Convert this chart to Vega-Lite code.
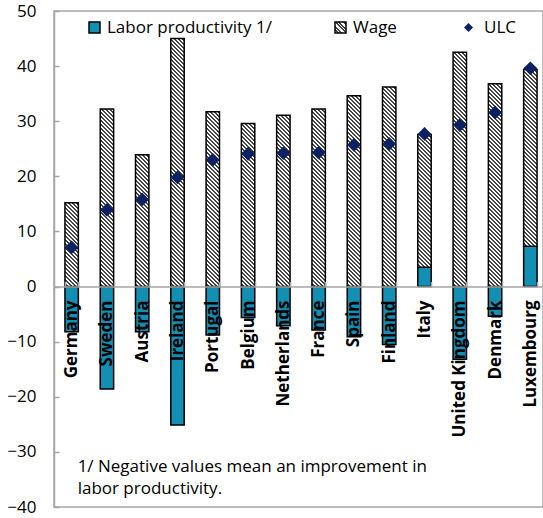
{
"$schema": "https://vega.github.io/schema/vega-lite/v6.json",
"width": 489, "height": 496,
"autosize": {"type": "none"},
"padding": {"left": 54, "top": 11, "right": 0, "bottom": 11},
"background": "white",
"config": {"view": {"stroke": "#a6a6a6", "strokeWidth": 1.5}, "font": "Open Sans"},
"params": [{"name": "hatch", "value": [
{"offset":0,"color":"#fff"},
{"offset":0.0076,"color":"#fff"},{"offset":0.0076,"color":"#444"},
{"offset":0.0152,"color":"#444"},{"offset":0.0152,"color":"#fff"},
{"offset":0.0227,"color":"#fff"},{"offset":0.0227,"color":"#444"},
{"offset":0.0303,"color":"#444"},{"offset":0.0303,"color":"#fff"},
{"offset":0.0379,"color":"#fff"},{"offset":0.0379,"color":"#444"},
{"offset":0.0455,"color":"#444"},{"offset":0.0455,"color":"#fff"},
{"offset":0.0530,"color":"#fff"},{"offset":0.0530,"color":"#444"},
{"offset":0.0606,"color":"#444"},{"offset":0.0606,"color":"#fff"},
{"offset":0.0682,"color":"#fff"},{"offset":0.0682,"color":"#444"},
{"offset":0.0758,"color":"#444"},{"offset":0.0758,"color":"#fff"},
{"offset":0.0833,"color":"#fff"},{"offset":0.0833,"color":"#444"},
{"offset":0.0909,"color":"#444"},{"offset":0.0909,"color":"#fff"},
{"offset":0.0985,"color":"#fff"},{"offset":0.0985,"color":"#444"},
{"offset":0.1061,"color":"#444"},{"offset":0.1061,"color":"#fff"},
{"offset":0.1136,"color":"#fff"},{"offset":0.1136,"color":"#444"},
{"offset":0.1212,"color":"#444"},{"offset":0.1212,"color":"#fff"},
{"offset":0.1288,"color":"#fff"},{"offset":0.1288,"color":"#444"},
{"offset":0.1364,"color":"#444"},{"offset":0.1364,"color":"#fff"},
{"offset":0.1439,"color":"#fff"},{"offset":0.1439,"color":"#444"},
{"offset":0.1515,"color":"#444"},{"offset":0.1515,"color":"#fff"},
{"offset":0.1591,"color":"#fff"},{"offset":0.1591,"color":"#444"},
{"offset":0.1667,"color":"#444"},{"offset":0.1667,"color":"#fff"},
{"offset":0.1742,"color":"#fff"},{"offset":0.1742,"color":"#444"},
{"offset":0.1818,"color":"#444"},{"offset":0.1818,"color":"#fff"},
{"offset":0.1894,"color":"#fff"},{"offset":0.1894,"color":"#444"},
{"offset":0.1970,"color":"#444"},{"offset":0.1970,"color":"#fff"},
{"offset":0.2045,"color":"#fff"},{"offset":0.2045,"color":"#444"},
{"offset":0.2121,"color":"#444"},{"offset":0.2121,"color":"#fff"},
{"offset":0.2197,"color":"#fff"},{"offset":0.2197,"color":"#444"},
{"offset":0.2273,"color":"#444"},{"offset":0.2273,"color":"#fff"},
{"offset":0.2348,"color":"#fff"},{"offset":0.2348,"color":"#444"},
{"offset":0.2424,"color":"#444"},{"offset":0.2424,"color":"#fff"},
{"offset":0.2500,"color":"#fff"},{"offset":0.2500,"color":"#444"},
{"offset":0.2576,"color":"#444"},{"offset":0.2576,"color":"#fff"},
{"offset":0.2652,"color":"#fff"},{"offset":0.2652,"color":"#444"},
{"offset":0.2727,"color":"#444"},{"offset":0.2727,"color":"#fff"},
{"offset":0.2803,"color":"#fff"},{"offset":0.2803,"color":"#444"},
{"offset":0.2879,"color":"#444"},{"offset":0.2879,"color":"#fff"},
{"offset":0.2955,"color":"#fff"},{"offset":0.2955,"color":"#444"},
{"offset":0.3030,"color":"#444"},{"offset":0.3030,"color":"#fff"},
{"offset":0.3106,"color":"#fff"},{"offset":0.3106,"color":"#444"},
{"offset":0.3182,"color":"#444"},{"offset":0.3182,"color":"#fff"},
{"offset":0.3258,"color":"#fff"},{"offset":0.3258,"color":"#444"},
{"offset":0.3333,"color":"#444"},{"offset":0.3333,"color":"#fff"},
{"offset":0.3409,"color":"#fff"},{"offset":0.3409,"color":"#444"},
{"offset":0.3485,"color":"#444"},{"offset":0.3485,"color":"#fff"},
{"offset":0.3561,"color":"#fff"},{"offset":0.3561,"color":"#444"},
{"offset":0.3636,"color":"#444"},{"offset":0.3636,"color":"#fff"},
{"offset":0.3712,"color":"#fff"},{"offset":0.3712,"color":"#444"},
{"offset":0.3788,"color":"#444"},{"offset":0.3788,"color":"#fff"},
{"offset":0.3864,"color":"#fff"},{"offset":0.3864,"color":"#444"},
{"offset":0.3939,"color":"#444"},{"offset":0.3939,"color":"#fff"},
{"offset":0.4015,"color":"#fff"},{"offset":0.4015,"color":"#444"},
{"offset":0.4091,"color":"#444"},{"offset":0.4091,"color":"#fff"},
{"offset":0.4167,"color":"#fff"},{"offset":0.4167,"color":"#444"},
{"offset":0.4242,"color":"#444"},{"offset":0.4242,"color":"#fff"},
{"offset":0.4318,"color":"#fff"},{"offset":0.4318,"color":"#444"},
{"offset":0.4394,"color":"#444"},{"offset":0.4394,"color":"#fff"},
{"offset":0.4470,"color":"#fff"},{"offset":0.4470,"color":"#444"},
{"offset":0.4545,"color":"#444"},{"offset":0.4545,"color":"#fff"},
{"offset":0.4621,"color":"#fff"},{"offset":0.4621,"color":"#444"},
{"offset":0.4697,"color":"#444"},{"offset":0.4697,"color":"#fff"},
{"offset":0.4773,"color":"#fff"},{"offset":0.4773,"color":"#444"},
{"offset":0.4848,"color":"#444"},{"offset":0.4848,"color":"#fff"},
{"offset":0.4924,"color":"#fff"},{"offset":0.4924,"color":"#444"},
{"offset":0.5000,"color":"#444"},{"offset":0.5000,"color":"#fff"},
{"offset":0.5076,"color":"#fff"},{"offset":0.5076,"color":"#444"},
{"offset":0.5152,"color":"#444"},{"offset":0.5152,"color":"#fff"},
{"offset":0.5227,"color":"#fff"},{"offset":0.5227,"color":"#444"},
{"offset":0.5303,"color":"#444"},{"offset":0.5303,"color":"#fff"},
{"offset":0.5379,"color":"#fff"},{"offset":0.5379,"color":"#444"},
{"offset":0.5455,"color":"#444"},{"offset":0.5455,"color":"#fff"},
{"offset":0.5530,"color":"#fff"},{"offset":0.5530,"color":"#444"},
{"offset":0.5606,"color":"#444"},{"offset":0.5606,"color":"#fff"},
{"offset":0.5682,"color":"#fff"},{"offset":0.5682,"color":"#444"},
{"offset":0.5758,"color":"#444"},{"offset":0.5758,"color":"#fff"},
{"offset":0.5833,"color":"#fff"},{"offset":0.5833,"color":"#444"},
{"offset":0.5909,"color":"#444"},{"offset":0.5909,"color":"#fff"},
{"offset":0.5985,"color":"#fff"},{"offset":0.5985,"color":"#444"},
{"offset":0.6061,"color":"#444"},{"offset":0.6061,"color":"#fff"},
{"offset":0.6136,"color":"#fff"},{"offset":0.6136,"color":"#444"},
{"offset":0.6212,"color":"#444"},{"offset":0.6212,"color":"#fff"},
{"offset":0.6288,"color":"#fff"},{"offset":0.6288,"color":"#444"},
{"offset":0.6364,"color":"#444"},{"offset":0.6364,"color":"#fff"},
{"offset":0.6439,"color":"#fff"},{"offset":0.6439,"color":"#444"},
{"offset":0.6515,"color":"#444"},{"offset":0.6515,"color":"#fff"},
{"offset":0.6591,"color":"#fff"},{"offset":0.6591,"color":"#444"},
{"offset":0.6667,"color":"#444"},{"offset":0.6667,"color":"#fff"},
{"offset":0.6742,"color":"#fff"},{"offset":0.6742,"color":"#444"},
{"offset":0.6818,"color":"#444"},{"offset":0.6818,"color":"#fff"},
{"offset":0.6894,"color":"#fff"},{"offset":0.6894,"color":"#444"},
{"offset":0.6970,"color":"#444"},{"offset":0.6970,"color":"#fff"},
{"offset":0.7045,"color":"#fff"},{"offset":0.7045,"color":"#444"},
{"offset":0.7121,"color":"#444"},{"offset":0.7121,"color":"#fff"},
{"offset":0.7197,"color":"#fff"},{"offset":0.7197,"color":"#444"},
{"offset":0.7273,"color":"#444"},{"offset":0.7273,"color":"#fff"},
{"offset":0.7348,"color":"#fff"},{"offset":0.7348,"color":"#444"},
{"offset":0.7424,"color":"#444"},{"offset":0.7424,"color":"#fff"},
{"offset":0.7500,"color":"#fff"},{"offset":0.7500,"color":"#444"},
{"offset":0.7576,"color":"#444"},{"offset":0.7576,"color":"#fff"},
{"offset":0.7652,"color":"#fff"},{"offset":0.7652,"color":"#444"},
{"offset":0.7727,"color":"#444"},{"offset":0.7727,"color":"#fff"},
{"offset":0.7803,"color":"#fff"},{"offset":0.7803,"color":"#444"},
{"offset":0.7879,"color":"#444"},{"offset":0.7879,"color":"#fff"},
{"offset":0.7955,"color":"#fff"},{"offset":0.7955,"color":"#444"},
{"offset":0.8030,"color":"#444"},{"offset":0.8030,"color":"#fff"},
{"offset":0.8106,"color":"#fff"},{"offset":0.8106,"color":"#444"},
{"offset":0.8182,"color":"#444"},{"offset":0.8182,"color":"#fff"},
{"offset":0.8258,"color":"#fff"},{"offset":0.8258,"color":"#444"},
{"offset":0.8333,"color":"#444"},{"offset":0.8333,"color":"#fff"},
{"offset":0.8409,"color":"#fff"},{"offset":0.8409,"color":"#444"},
{"offset":0.8485,"color":"#444"},{"offset":0.8485,"color":"#fff"},
{"offset":0.8561,"color":"#fff"},{"offset":0.8561,"color":"#444"},
{"offset":0.8636,"color":"#444"},{"offset":0.8636,"color":"#fff"},
{"offset":0.8712,"color":"#fff"},{"offset":0.8712,"color":"#444"},
{"offset":0.8788,"color":"#444"},{"offset":0.8788,"color":"#fff"},
{"offset":0.8864,"color":"#fff"},{"offset":0.8864,"color":"#444"},
{"offset":0.8939,"color":"#444"},{"offset":0.8939,"color":"#fff"},
{"offset":0.9015,"color":"#fff"},{"offset":0.9015,"color":"#444"},
{"offset":0.9091,"color":"#444"},{"offset":0.9091,"color":"#fff"},
{"offset":0.9167,"color":"#fff"},{"offset":0.9167,"color":"#444"},
{"offset":0.9242,"color":"#444"},{"offset":0.9242,"color":"#fff"},
{"offset":0.9318,"color":"#fff"},{"offset":0.9318,"color":"#444"},
{"offset":0.9394,"color":"#444"},{"offset":0.9394,"color":"#fff"},
{"offset":0.9470,"color":"#fff"},{"offset":0.9470,"color":"#444"},
{"offset":0.9545,"color":"#444"},{"offset":0.9545,"color":"#fff"},
{"offset":0.9621,"color":"#fff"},{"offset":0.9621,"color":"#444"},
{"offset":0.9697,"color":"#444"},{"offset":0.9697,"color":"#fff"},
{"offset":0.9773,"color":"#fff"},{"offset":0.9773,"color":"#444"},
{"offset":0.9848,"color":"#444"},{"offset":0.9848,"color":"#fff"},
{"offset":0.9924,"color":"#fff"},{"offset":0.9924,"color":"#444"},
{"offset":1,"color":"#444"}
]}],
"datasets": {
"bars": [
{"country":"Germany","series":"Labor productivity 1/","value":-8.2},{"country":"Germany","series":"Wage","value":15.2},
{"country":"Sweden","series":"Labor productivity 1/","value":-18.6},{"country":"Sweden","series":"Wage","value":32.2},
{"country":"Austria","series":"Labor productivity 1/","value":-8.2},{"country":"Austria","series":"Wage","value":23.9},
{"country":"Ireland","series":"Labor productivity 1/","value":-25.1},{"country":"Ireland","series":"Wage","value":45.0},
{"country":"Portugal","series":"Labor productivity 1/","value":-8.8},{"country":"Portugal","series":"Wage","value":31.7},
{"country":"Belgium","series":"Labor productivity 1/","value":-5.6},{"country":"Belgium","series":"Wage","value":29.6},
{"country":"Netherlands","series":"Labor productivity 1/","value":-7.1},{"country":"Netherlands","series":"Wage","value":31.1},
{"country":"France","series":"Labor productivity 1/","value":-7.9},{"country":"France","series":"Wage","value":32.2},
{"country":"Spain","series":"Labor productivity 1/","value":-9.1},{"country":"Spain","series":"Wage","value":34.6},
{"country":"Finland","series":"Labor productivity 1/","value":-10.5},{"country":"Finland","series":"Wage","value":36.2},
{"country":"Italy","series":"Labor productivity 1/","value":3.5},{"country":"Italy","series":"Wage","value":24.1},
{"country":"United Kingdom","series":"Labor productivity 1/","value":-13.2},{"country":"United Kingdom","series":"Wage","value":42.5},
{"country":"Denmark","series":"Labor productivity 1/","value":-5.4},{"country":"Denmark","series":"Wage","value":36.8},
{"country":"Luxembourg","series":"Labor productivity 1/","value":7.3},{"country":"Luxembourg","series":"Wage","value":32.1}
],
"ulc": [
{"country":"Germany","series":"ULC","value":7.1},
{"country":"Sweden","series":"ULC","value":13.9},
{"country":"Austria","series":"ULC","value":15.8},
{"country":"Ireland","series":"ULC","value":19.8},
{"country":"Portugal","series":"ULC","value":23.0},
{"country":"Belgium","series":"ULC","value":24.1},
{"country":"Netherlands","series":"ULC","value":24.2},
{"country":"France","series":"ULC","value":24.3},
{"country":"Spain","series":"ULC","value":25.7},
{"country":"Finland","series":"ULC","value":25.9},
{"country":"Italy","series":"ULC","value":27.7},
{"country":"United Kingdom","series":"ULC","value":29.3},
{"country":"Denmark","series":"ULC","value":31.6},
{"country":"Luxembourg","series":"ULC","value":39.6}
],
"note": [{"note": "1/ Negative values mean an improvement in\nlabor productivity."}]
},
"layer": [
{
"data": {"name": "bars"},
"mark": {"type": "bar", "strokeWidth": 1.5,
 "fill": {"expr": "datum.value === 'Wage' ? {gradient: 'linear', x1: 0, y1: 1, x2: 12, y2: -11, stops: hatch} : datum.series === 'Wage' ? {gradient: 'linear', x1: 0, y1: 1, x2: 264*bandwidth('x')/(pow(bandwidth('x'),2)+pow(scale('y',datum.value_end)-scale('y',datum.value_start),2)), y2: 1-264*abs(scale('y',datum.value_end)-scale('y',datum.value_start))/(pow(bandwidth('x'),2)+pow(scale('y',datum.value_end)-scale('y',datum.value_start),2)), stops: hatch} : '#138fb3'"}},
"encoding": {
 "x": {"field": "country", "type": "nominal", "sort": null,
  "scale": {"domain": ["Germany","Sweden","Austria","Ireland","Portugal","Belgium","Netherlands","France","Spain","Finland","Italy","United Kingdom","Denmark","Luxembourg"], "range": [0, 494], "paddingInner": 0.62, "paddingOuter": 0.31},
  "axis": {"orient": "bottom", "offset": -220.44, "title": null, "zindex": 1, "domainColor": "#a6a6a6", "domainWidth": 1.5, "tickColor": "#a6a6a6", "tickWidth": 1.5, "tickSize": -5, "tickBand": "extent", "labelAngle": -90, "labelFont": "Open Sans", "labelFontWeight": "bold", "labelFontSize": 17, "labelColor": "#000", "labelPadding": 18.4, "labelOverlap": false, "labelLimit": 0}},
 "y": {"field": "value", "type": "quantitative", "stack": "zero",
  "scale": {"domain": [-40, 50], "nice": false, "zero": false},
  "axis": {"values": [-40,-30,-20,-10,0,10,20,30,40,50], "title": null, "grid": false, "domainColor": "#a6a6a6", "domainWidth": 1.5, "tickColor": "#a6a6a6", "tickWidth": 1.5, "tickSize": -5, "labelPadding": 23, "labelFont": "Open Sans", "labelFontSize": 17, "labelColor": "#000", "labelFlush": false}},
 "order": {"field": "series", "sort": "ascending"},
 "stroke": {"field": "series", "type": "nominal",
  "scale": {"domain": ["Labor productivity 1/", "Wage"], "range": ["#000000", "#000000"]},
  "legend": {"title": null, "orient": "none", "legendX": 32, "legendY": 8, "direction": "horizontal", "padding": 0,
   "symbolType": "square", "symbolSize": 121, "symbolStrokeWidth": 1.5, "labelFont": "Open Sans", "labelFontSize": 17, "labelColor": "#000", "labelOffset": 4, "labelLimit": 0, "columnPadding": 60}}
}
},
{
"data": {"name": "ulc"},
"mark": {"type": "point", "shape": "diamond", "filled": true, "size": 190, "opacity": 1},
"encoding": {
 "x": {"field": "country", "type": "nominal", "sort": null},
 "y": {"field": "value", "type": "quantitative"},
 "color": {"field": "series", "type": "nominal", "scale": {"domain": ["ULC"], "range": ["#0b2162"]},
  "legend": {"title": null, "orient": "none", "legendX": 406, "legendY": 8, "padding": 0, "symbolType": "diamond", "symbolSize": 81, "symbolOpacity": 1, "labelFont": "Open Sans", "labelFontSize": 17, "labelColor": "#000", "labelOffset": 7}}
}
},
{
"data": {"name": "note"},
"mark": {"type": "text", "align": "left", "baseline": "alphabetic", "dx": 6, "lineBreak": "\n", "lineHeight": 22.5, "font": "Open Sans", "fontSize": 17, "color": "#000"},
"encoding": {
 "x": {"datum": "Germany", "type": "nominal"},
 "y": {"datum": -33.6, "type": "quantitative"},
 "text": {"field": "note"}
}
}
]
}
